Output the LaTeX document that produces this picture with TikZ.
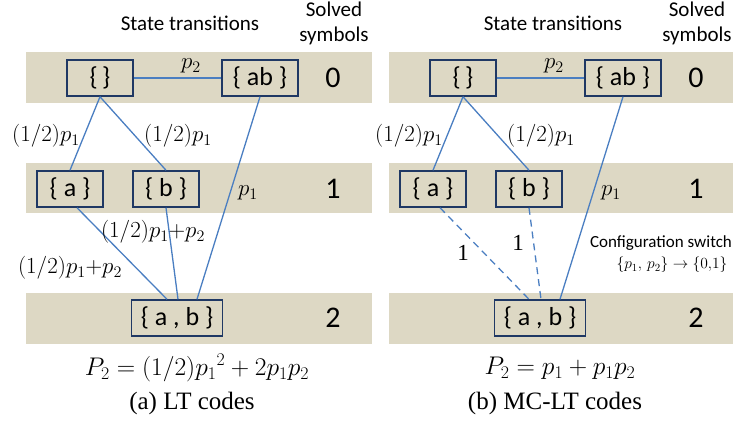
\RequirePackage{fix-cm}
\documentclass[tikz,border=0pt]{standalone}
\usepackage{fontspec}
\setmainfont{Liberation Serif}
\newfontfamily\calibri{Carlito}
\usetikzlibrary{positioning}
\definecolor{bandtan}{RGB}{221,216,196}
\definecolor{boxblue}{RGB}{31,56,100}
\definecolor{edgeblue}{RGB}{74,126,193}
\tikzset{
  % Band of one row of states
  band/.style={fill=bandtan, draw=none},
  % State node
  state/.style={draw=boxblue, line width=1.5pt, fill=bandtan, minimum height=36pt,
    inner sep=0pt, font=\calibri\fontsize{26}{30}\selectfont},
  % Headings and numbers of solved symbols
  head/.style={font=\calibri\fontsize{21}{25}\selectfont, align=center},
  count/.style={font=\calibri\fontsize{30}{32}\selectfont},
  % Transition probabilities
  prob/.style={font=\fontsize{23}{25}\selectfont},
  % Transitions
  trans/.style={draw=edgeblue, line width=1.3pt},
  switch/.style={trans, dash pattern=on 7pt off 5pt},
  % Formula and caption
  formula/.style={font=\fontsize{25.5}{28}\selectfont},
  caption/.style={font=\fontsize{25}{28}\selectfont},
}

\begin{document}
\begin{tikzpicture}[x=1pt, y=-1pt]
  \useasboundingbox (0,0) rectangle (733,423);

  % (a) LT codes
  \fill[band] (26,52) rectangle (372,103);
  \fill[band] (26,163) rectangle (372,213);
  \fill[band] (26,293) rectangle (372,344);

  \node[head] (lt-title) at (190,23) {State transitions};
  \node[head] (lt-solved) at (334,23) {Solved\\symbols};

  \node[state, minimum width=66pt] (lt-e) at (100,78) {\{\,\}};
  \node[state, minimum width=76pt] (lt-ab) at (260,78) {\{ ab \}};
  \node[state, minimum width=66pt] (lt-a) at (70,189) {\{ a \}};
  \node[state, minimum width=66pt] (lt-b) at (166,189) {\{ b \}};
  \node[state, minimum width=91pt] (lt-aab) at (177,318) {\{ a , b \}};

  \node[count] (lt-n0) at (333,78) {0};
  \node[count] (lt-n1) at (333,189) {1};
  \node[count] (lt-n2) at (333,318) {2};

  \draw[trans] (lt-e) -- (lt-ab);
  \draw[trans] (lt-e.south) -- (lt-a.north);
  \draw[trans] (lt-e.south) -- (lt-b.north);
  \draw[trans] (lt-ab.south) -- ([xshift=20pt]lt-aab.north);
  \draw[trans] ([xshift=7pt]lt-a.south) -- ([xshift=-10pt]lt-aab.north);
  \draw[trans] (lt-b.south) -- ([xshift=1pt]lt-aab.north);

  \node[prob] (lt-p2) at (191,66) {$p_2$};
  \node[prob] (lt-pa) at (46,136) {$(1/2)p_1$};
  \node[prob] (lt-pb) at (178,136) {$(1/2)p_1$};
  \node[prob] (lt-pab) at (248,193) {$p_1$};
  \node[prob] (lt-pba) at (153,232) {$(1/2)p_1{+}p_2$};
  \node[prob] (lt-paa) at (70,268) {$(1/2)p_1{+}p_2$};

  \node[formula] (lt-f) at (197,368) {$P_2=(1/2){p_1}^2+2p_1p_2$};
  \node[caption] (lt-cap) at (192,403) {(a) LT codes};

  % (b) MC-LT codes
  \fill[band] (389,52) rectangle (733,103);
  \fill[band] (389,163) rectangle (733,213);
  \fill[band] (389,293) rectangle (733,344);

  \node[head] (mc-title) at (553,23) {State transitions};
  \node[head] (mc-solved) at (697,23) {Solved\\symbols};

  \node[state, minimum width=66pt] (mc-e) at (463,78) {\{\,\}};
  \node[state, minimum width=76pt] (mc-ab) at (623,78) {\{ ab \}};
  \node[state, minimum width=66pt] (mc-a) at (433,189) {\{ a \}};
  \node[state, minimum width=66pt] (mc-b) at (529,189) {\{ b \}};
  \node[state, minimum width=91pt] (mc-aab) at (540,318) {\{ a , b \}};

  \node[count] (mc-n0) at (696,78) {0};
  \node[count] (mc-n1) at (696,189) {1};
  \node[count] (mc-n2) at (696,318) {2};

  \draw[trans] (mc-e) -- (mc-ab);
  \draw[trans] (mc-e.south) -- (mc-a.north);
  \draw[trans] (mc-e.south) -- (mc-b.north);
  \draw[trans] (mc-ab.south) -- ([xshift=20pt]mc-aab.north);
  \draw[switch] ([xshift=7pt]mc-a.south) -- ([xshift=-11pt]mc-aab.north);
  \draw[switch] (mc-b.south) -- ([xshift=1pt]mc-aab.north);

  \node[prob] (mc-p2) at (554,66) {$p_2$};
  \node[prob] (mc-pa) at (409,136) {$(1/2)p_1$};
  \node[prob] (mc-pb) at (541,136) {$(1/2)p_1$};
  \node[prob] (mc-pab) at (611,193) {$p_1$};
  \node[prob] (mc-one-b) at (518,243) {1};
  \node[prob] (mc-one-a) at (463,253) {1};

  \node[font=\calibri\fontsize{17}{19}\selectfont] (mc-cfg) at (661,243) {Configuration switch};
  \node[font=\fontsize{15.5}{17}\selectfont] (mc-cfgm) at (672,265) {$\{p_1,\,p_2\}\rightarrow\{0{,}1\}$};

  \node[formula] (mc-f) at (560,368) {$P_2=p_1+p_1p_2$};
  \node[caption] (mc-cap) at (555,403) {(b) MC-LT codes};
\end{tikzpicture}
\end{document}
